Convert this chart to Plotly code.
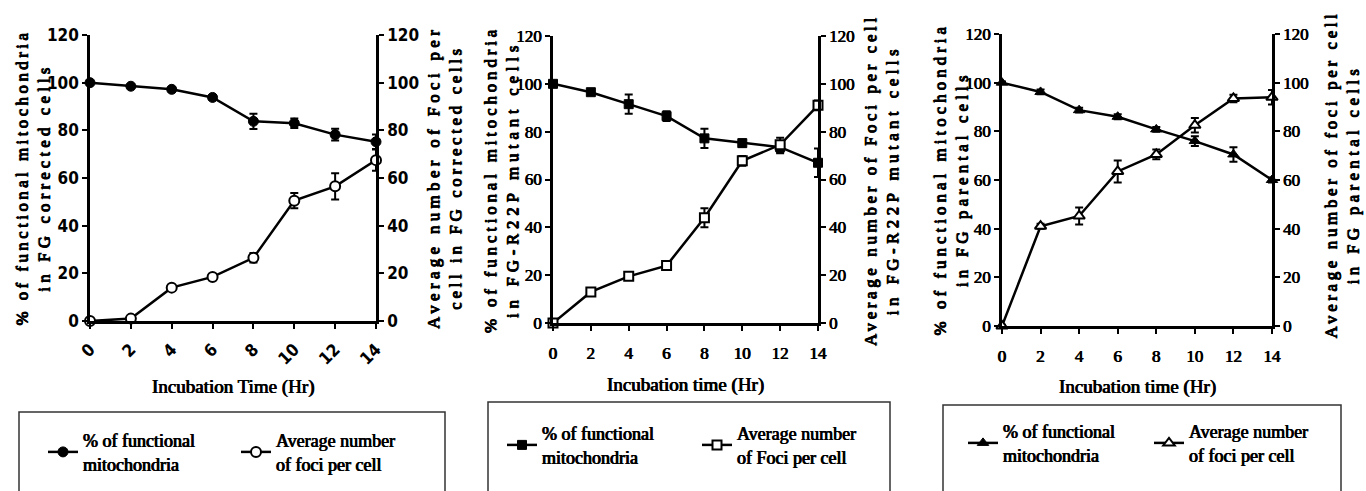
import plotly.graph_objects as go

# ---------------- data ----------------
hours = [0, 2, 4, 6, 8, 10, 12, 14]
x_tick_vals = [0, 2, 4, 6, 8, 10, 12, 14]
y_tick_vals = [0, 20, 40, 60, 80, 100, 120]

# Panel 1 : FG corrected cells
p1_func = [100, 98.5, 97.2, 93.8, 83.8, 83.0, 78.2, 75.2]
p1_func_err = [0.5, 0.8, 1.0, 1.0, 3.2, 2.0, 2.5, 3.0]
p1_foci = [0, 1.0, 14.0, 18.5, 26.5, 50.5, 56.5, 67.5]
p1_foci_err = [0.5, 0.5, 0.8, 0.8, 2.0, 3.2, 5.5, 4.5]

# Panel 2 : FG-R22P mutant cells
p2_func = [100, 96.5, 91.5, 86.5, 77.2, 75.2, 73.5, 67.0]
p2_func_err = [0.5, 1.0, 4.0, 2.0, 4.0, 1.5, 2.5, 6.0]
p2_foci = [0, 13.0, 19.5, 24.0, 44.0, 67.8, 74.5, 91.0]
p2_foci_err = [0.5, 1.0, 1.0, 1.0, 4.0, 2.0, 3.0, 2.0]

# Panel 3 : FG parental cells
p3_func = [100, 96.2, 88.7, 86.0, 80.8, 76.0, 70.5, 60.0]
p3_func_err = [0.5, 1.0, 1.0, 1.0, 1.0, 2.0, 3.0, 1.0]
p3_foci = [0, 41.0, 45.2, 63.5, 70.5, 82.5, 93.5, 94.0]
p3_foci_err = [0.5, 1.0, 3.5, 4.5, 2.0, 3.0, 1.5, 3.0]

legend_func = "% of functional<br>mitochondria"
legend_foci_lower = "Average number<br>of foci per cell"
legend_foci_upper = "Average number<br>of Foci per cell"

# ---------------- layout helpers ----------------
W, H = 1366, 491
SERIF = "Liberation Serif"
FAKE_BOLD = "0.45px 0 0 black, -0.45px 0 0 black"
TITLE_BOLD = "0.5px 0 0 black, -0.5px 0 0 black, 0 0.5px 0 black, 0 -0.5px 0 black"


def fx(p):
    return p / W


def fy(p):
    return 1 - p / H


serif_tick = dict(family=SERIF, size=17, color="black", shadow=FAKE_BOLD)
panels = [
    dict(xd=(90, 376), yd=(35, 321),
         tickfont=dict(family="DejaVu Sans Condensed", size=17, color="black", weight="bold"),
         xangle=-45, marker="circle"),
    dict(xd=(553, 818), yd=(36, 323), tickfont=serif_tick, xangle=0, marker="square"),
    dict(xd=(1002, 1272), yd=(34, 326), tickfont=serif_tick, xangle=0, marker="triangle-up"),
]

series = [
    (p1_func, p1_func_err, p1_foci, p1_foci_err, legend_func, legend_foci_lower),
    (p2_func, p2_func_err, p2_foci, p2_foci_err, legend_func, legend_foci_upper),
    (p3_func, p3_func_err, p3_foci, p3_foci_err, legend_func, legend_foci_lower),
]

marker_sizes = [10, 9, 10]

fig = go.Figure()
layout = dict(width=W, height=H, margin=dict(l=0, r=0, t=0, b=0, autoexpand=False),
              paper_bgcolor="white", plot_bgcolor="white", showlegend=True,
              font=dict(family=SERIF, color="black"))

axis_common = dict(showline=True, linewidth=2.5, linecolor="black", ticks="outside",
                   ticklen=5, tickwidth=2, tickcolor="black", showgrid=False, zeroline=False,
                   automargin=False)

for i, (pan, ser) in enumerate(zip(panels, series)):
    n = i + 1
    xname = "xaxis" if n == 1 else f"xaxis{n}"
    xref = "x" if n == 1 else f"x{n}"
    yl = 2 * n - 1
    yr = 2 * n
    ylname = "yaxis" if yl == 1 else f"yaxis{yl}"
    yrname = f"yaxis{yr}"
    ylref = "y" if yl == 1 else f"y{yl}"
    yrref = f"y{yr}"
    leg = "legend" if n == 1 else f"legend{n}"

    layout[xname] = dict(axis_common, domain=[fx(pan["xd"][0]), fx(pan["xd"][1])], anchor=ylref,
                         range=[0, 14], tickvals=x_tick_vals, tickangle=pan["xangle"],
                         tickfont=pan["tickfont"], ticklabelstandoff=8 if n > 1 else 4)
    layout[ylname] = dict(axis_common, domain=[fy(pan["yd"][1]), fy(pan["yd"][0])], anchor=xref,
                          range=[0, 120], tickvals=y_tick_vals, tickfont=pan["tickfont"], side="left")
    layout[yrname] = dict(axis_common, anchor=xref, overlaying=ylref, side="right",
                          range=[0, 120], tickvals=y_tick_vals, tickfont=pan["tickfont"])

    func, func_err, foci, foci_err, lf, lo = ser
    ms = marker_sizes[i]
    fig.add_trace(go.Scatter(
        x=hours, y=func, mode="lines+markers", name=lf, legend=leg,
        xaxis=xref, yaxis=ylref, cliponaxis=False,
        line=dict(color="black", width=2.5),
        marker=dict(symbol=pan["marker"], size=ms, color="black", line=dict(color="black", width=1)),
        error_y=dict(type="data", array=func_err, visible=True, thickness=2, width=4, color="black"),
    ))
    fig.add_trace(go.Scatter(
        x=hours, y=foci, mode="lines+markers", name=lo, legend=leg,
        xaxis=xref, yaxis=yrref, cliponaxis=False,
        line=dict(color="black", width=2.5),
        marker=dict(symbol=pan["marker"], size=ms, color="white", line=dict(color="black", width=2)),
        error_y=dict(type="data", array=foci_err, visible=True, thickness=2, width=4, color="black"),
    ))

# legends
leg_font = dict(family=SERIF, size=18, color="black", shadow=FAKE_BOLD)
leg_pos = [(43, 452, 148), (502, 445, 150), (963, 443, 141)]
for i, (lx, ly, ew) in enumerate(leg_pos):
    name = "legend" if i == 0 else f"legend{i + 1}"
    layout[name] = dict(x=fx(lx), y=fy(ly), xanchor="left", yanchor="middle", orientation="h",
                        font=leg_font, bgcolor="rgba(0,0,0,0)", borderwidth=0,
                        entrywidth=ew, entrywidthmode="pixels", itemwidth=30, itemclick=False)

# legend boxes
boxes = [(19, 412, 445), (488, 402, 890), (943, 405, 1341)]
shapes = []
for x0, y0, x1 in boxes:
    shapes.append(dict(type="rect", xref="paper", yref="paper", x0=fx(x0), x1=fx(x1),
                       y0=-0.02, y1=fy(y0), line=dict(color="#333333", width=1.5), fillcolor="rgba(0,0,0,0)"))
layout["shapes"] = shapes


def sp(text, ls):
    return f"<span style='letter-spacing:{ls}px'>{text}</span>"


title_font = dict(family=SERIF, size=17, color="black", shadow=TITLE_BOLD)
ytitles = [
    (32.5, 178, sp("% of functional mitochondria", 3.4) + "<br>" + sp("in FG corrected cells", 4.1)),
    (444, 178, sp("Average number of Foci per", 4.3) + "<br>" + sp("cell in FG corrected cells", 3.6)),
    (501, 180, sp("% of functional mitochondria", 3.8) + "<br>" + sp("in FG-R22P mutant cells", 4.7)),
    (881, 180, sp("Average number of Foci per cell", 3.6) + "<br>" + sp("in FG-R22P mutant cells", 4.4)),
    (950.5, 179, sp("% of functional mitochondria", 4.0) + "<br>" + sp("in FG parental cells", 4.1)),
    (1341.5, 175, sp("Average number of foci per cell", 3.6) + "<br>" + sp("in FG parental cells", 4.3)),
]
annotations = []
for x, y, t in ytitles:
    annotations.append(dict(xref="paper", yref="paper", x=fx(x), y=fy(y), text=t, textangle=-90,
                            showarrow=False, xanchor="center", yanchor="middle", font=title_font))

xtitles = [
    (233, 387, "Incubation Time (Hr)"),
    (685.5, 385, "Incubation time (Hr)"),
    (1137, 387, "Incubation time (Hr)"),
]
for x, y, t in xtitles:
    annotations.append(dict(xref="paper", yref="paper", x=fx(x), y=fy(y), text=t, showarrow=False,
                            xanchor="center", yanchor="middle",
                            font=dict(family=SERIF, size=19, color="black", shadow=FAKE_BOLD)))
layout["annotations"] = annotations

fig.update_layout(**layout)
fig.write_html("out.html", config={"displayModeBar": False},
               post_script="document.body.style.margin='0px';")
